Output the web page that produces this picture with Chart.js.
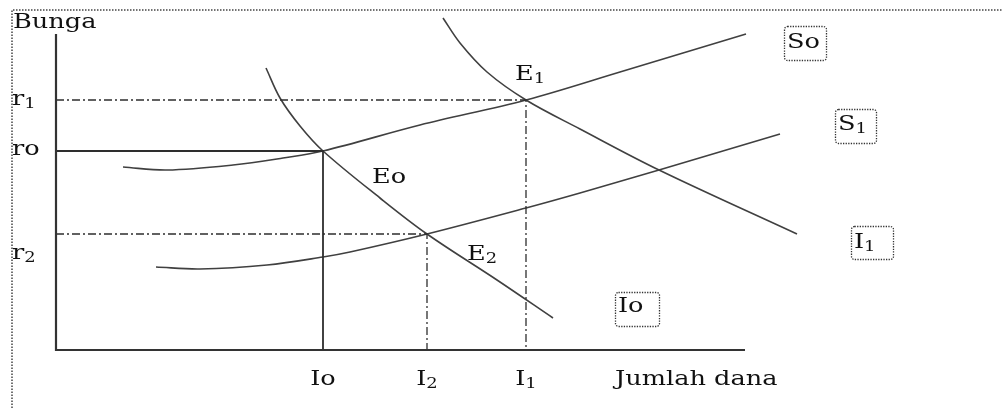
<!DOCTYPE html>
<html>
<head>
<meta charset="utf-8">
<script src="https://cdn.jsdelivr.net/npm/chart.js@4/dist/chart.umd.min.js"></script>
<style>
  html, body { margin: 0; padding: 0; background: #fff; }
  #wrap { width: 1002px; height: 408px; position: relative; }
</style>
</head>
<body>
<div id="wrap"><canvas id="myChart"></canvas></div>
<script>
// schematic units: x = jumlah dana, y = bunga
const qTicks = [267, 371, 470];
const qTickLabels = ['Io', 'I_2', 'I_1'];
const rTicks = [250, 199, 116];
const rTickLabels = ['r_1', 'ro', 'r_2'];
const axisEnd = { x: 689, y: 316 };

const s0 = [[67,183],[111,180],[177,185],[227,192],[267,199],[364,225],[470,250],[564,278],[690,316]];
const s1 = [[100,83],[144,81],[211,85],[267,93],[294,98],[371,116],[470,142],[524,157],[603,180],[724,216]];
const i0 = [[210,282],[224,252],[244,224],[267,199],[324,152],[371,116],[441,70],[497,32]];
const i1 = [[387,332],[404,307],[431,278],[470,250],[524,221],[603,180],[741,116]];

const e0 = [267, 199], e1 = [470, 250], e2 = [371, 116];

const pts = arr => arr.map(p => ({ x: p[0], y: p[1] }));
const FONT = '"DejaVu Serif", serif';
const SX = 1.28;
const INK = '#111';
const DASHDOT = [8, 3, 2, 3];

function curve(data) {
  return {
    data: pts(data), showLine: true, pointRadius: 0,
    borderColor: '#404040', borderWidth: 1.6,
    tension: 0.35, fill: false
  };
}
function guide(e, dash, width) {
  return {
    data: pts([[0, e[1]], e, [e[0], 0]]), showLine: true, pointRadius: 0,
    borderColor: '#2e2e2e', borderWidth: width, borderDash: dash, tension: 0, fill: false
  };
}

function label(ctx, text, x, y, align) {
  const parts = text.split('_');
  const main = parts[0], sub = parts[1] || '';
  ctx.font = '20px ' + FONT;
  const wMain = ctx.measureText(main).width;
  ctx.font = '14px ' + FONT;
  const wSub = ctx.measureText(sub).width;
  const w = (wMain + wSub) * SX;
  const left = align === 'center' ? x - w / 2 : x;
  ctx.save();
  ctx.translate(left, y);
  ctx.scale(SX, 1);
  ctx.fillStyle = INK;
  ctx.textBaseline = 'alphabetic';
  ctx.textAlign = 'left';
  ctx.font = '20px ' + FONT;
  ctx.fillText(main, 0, 0);
  if (sub) {
    ctx.font = '14px ' + FONT;
    ctx.fillText(sub, wMain, 3);
  }
  ctx.restore();
}

function dottedBox(ctx, x0, y0, x1, y1) {
  ctx.save();
  ctx.strokeStyle = '#333';
  ctx.lineWidth = 1.3;
  ctx.setLineDash([1.3, 1.3]);
  ctx.beginPath();
  ctx.roundRect(x0 + 0.5, y0 + 0.5, x1 - x0, y1 - y0, 3);
  ctx.stroke();
  ctx.restore();
}

const diagramText = {
  id: 'diagramText',
  afterDatasetsDraw(chart) {
    const ctx = chart.ctx;
    const xs = chart.scales.x, ys = chart.scales.y;
    const px = v => xs.getPixelForValue(v);
    const py = v => ys.getPixelForValue(v);

    // dotted frame
    ctx.save();
    ctx.strokeStyle = '#444';
    ctx.lineWidth = 1.5;
    ctx.setLineDash([1.5, 1.5]);
    ctx.beginPath();
    ctx.moveTo(12, 408);
    ctx.lineTo(12, 10);
    ctx.lineTo(1002, 10);
    ctx.stroke();
    ctx.restore();

    label(ctx, 'Bunga', px(0) - 43, py(axisEnd.y) - 6, 'left');
    label(ctx, 'Jumlah dana', px(axisEnd.x) - 130, py(0) + 35, 'left');

    qTicks.forEach((q, i) => label(ctx, qTickLabels[i], px(q), py(0) + 35, 'center'));
    const rOff = [5, 4, 25];
    rTicks.forEach((r, i) => label(ctx, rTickLabels[i], 12, py(r) + rOff[i], 'left'));

    label(ctx, 'E_1', px(e1[0]) - 11, py(e1[1]) - 20, 'left');
    label(ctx, 'Eo', px(e0[0]) + 49, py(e0[1]) + 32, 'left');
    label(ctx, 'E_2', px(e2[0]) + 40, py(e2[1]) + 26, 'left');

    const boxes = [
      ['So', s0[s0.length - 1], 38, -8, 42, 34, 22],
      ['S_1', s1[s1.length - 1], 55, -25, 41, 34, 21],
      ['I_1', i1[i1.length - 1], 54, -8, 42, 33, 22],
      ['Io', i0[i0.length - 1], 62, -26, 44, 34, 20]
    ];
    boxes.forEach(b => {
      const x0 = px(b[1][0]) + b[2], y0 = py(b[1][1]) + b[3];
      dottedBox(ctx, x0, y0, x0 + b[4], y0 + b[5]);
      label(ctx, b[0], x0 + 3, y0 + b[6], 'left');
    });
  }
};

new Chart('myChart', {
  type: 'scatter',
  data: {
    datasets: [
      { data: pts([[0, axisEnd.y], [0, 0], [axisEnd.x, 0]]), showLine: true, pointRadius: 0,
        borderColor: '#333', borderWidth: 2.2, tension: 0, fill: false },
      guide(e1, DASHDOT, 1.3),
      guide(e0, [], 1.8),
      guide(e2, DASHDOT, 1.3),
      curve(s0),
      curve(s1),
      curve(i0),
      curve(i1)
    ]
  },
  options: {
    responsive: true,
    maintainAspectRatio: false,
    animation: false,
    layout: { padding: 0 },
    plugins: { legend: { display: false }, tooltip: { enabled: false } },
    scales: {
      x: { type: 'linear', min: -56, max: 946, display: false },
      y: { type: 'linear', min: -58, max: 350, display: false }
    }
  },
  plugins: [diagramText]
});
</script>
</body>
</html>
